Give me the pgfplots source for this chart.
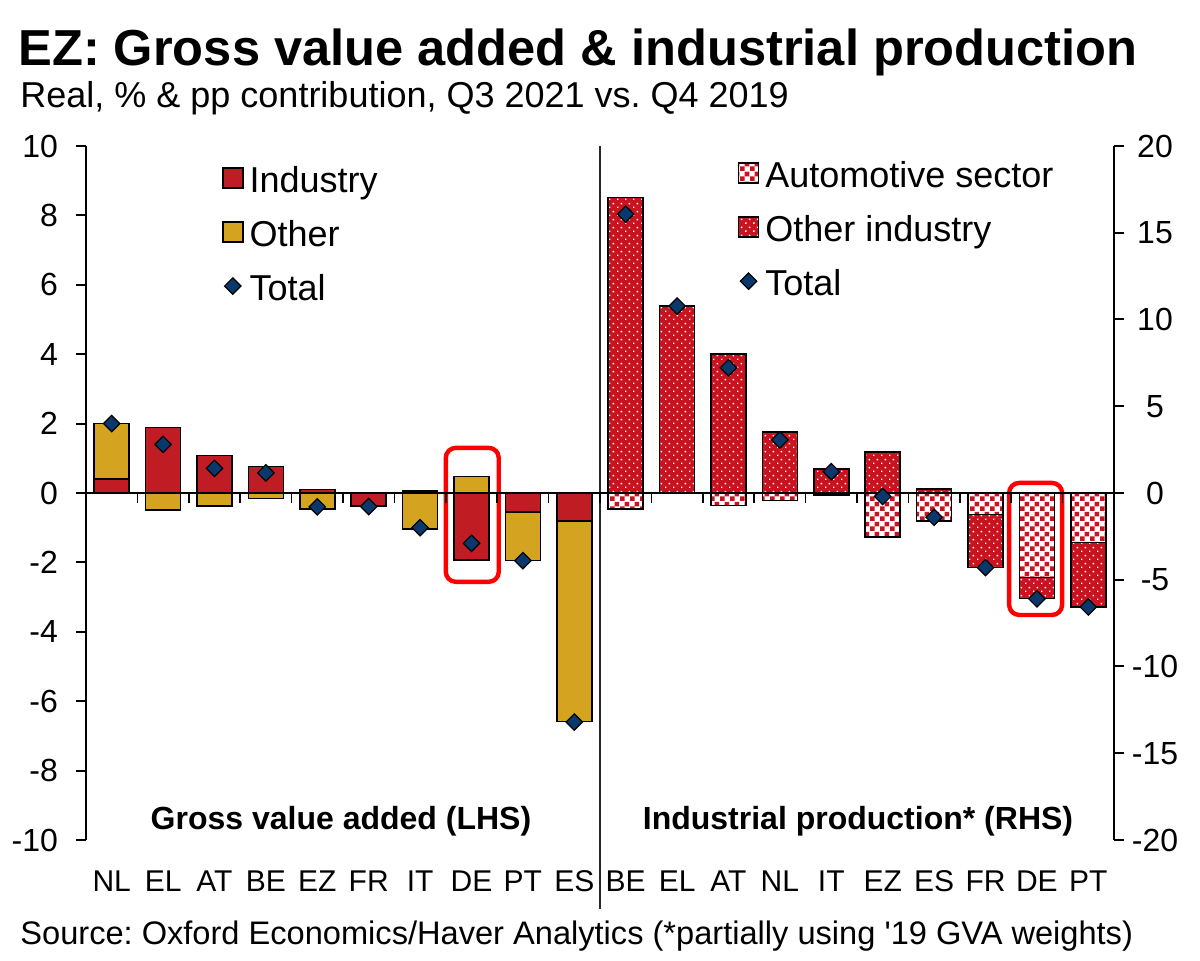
\documentclass[border=0pt]{standalone}
\usepackage{fontspec}
\setmainfont{Liberation Sans}[Ligatures=TeXOff]
\usepackage{pgfplots}
\usepackage{pgfplotstable}
\pgfplotsset{compat=1.18}
\usetikzlibrary{patterns.meta}

\definecolor{indred}{RGB}{192,28,36}
\definecolor{othgold}{RGB}{212,163,32}
\definecolor{totnavy}{RGB}{10,56,108}
\definecolor{ipred}{RGB}{200,20,32}

% checkerboard for the automotive sector, fine white dots for other industry
\tikzdeclarepattern{
  name=autocheck, type=uncolored,
  bounding box={(0pt,0pt) and (5pt,5pt)},
  tile size={(5pt,5pt)},
  code={\fill (0pt,0pt) rectangle (2.5pt,2.5pt); \fill (2.5pt,2.5pt) rectangle (5pt,5pt);}
}
\tikzdeclarepattern{
  name=smalldots, type=uncolored,
  bounding box={(0pt,0pt) and (4pt,4pt)},
  tile size={(4pt,4pt)},
  code={\fill (0.6pt,0.6pt) rectangle (1.4pt,1.4pt); \fill (2.6pt,2.6pt) rectangle (3.4pt,3.4pt);}
}

\tikzset{
  industry/.style={fill=indred, draw=black, line width=0.8pt},
  other/.style={fill=othgold, draw=black, line width=0.8pt},
  autosec/.style={preaction={fill=white}, pattern=autocheck, pattern color=ipred, draw=black, line width=0.8pt},
  othind/.style={preaction={fill=ipred}, pattern=smalldots, pattern color=white, draw=black, line width=0.8pt},
  totmark/.style={mark=square*, mark size=2.9pt, mark options={rotate=45, fill=totnavy, draw=black, line width=0.6pt}},
}

% Gross value added, % and pp contributions.
% ind: industry segment (next to zero); othend: outer end of the "other" segment,
% stacked on industry when both share a sign; tot: total.
\pgfplotstableread{
x ind othend tot
0  0.40  2.00  2.00
1  1.89 -0.49  1.40
2  1.08 -0.38  0.71
3  0.76 -0.16  0.58
4  0.10 -0.47 -0.40
5 -0.38  0.00 -0.39
6  0.05 -1.04 -1.00
7 -1.93  0.48 -1.45
8 -0.54 -1.95 -1.95
9 -0.80 -6.59 -6.60
}\gvatable

% Industrial production, % and pp contributions.
% auto: automotive sector (next to zero); othend: outer end of other industry; tot: total.
\pgfplotstableread{
x auto othend tot
10 -0.93 17.03 16.07
11  0.00 10.77 10.77
12 -0.73  8.00  7.22
13 -0.44  3.50  3.06
14 -0.12  1.37  1.23
15 -2.52  2.35 -0.20
16 -1.60  0.23 -1.40
17 -1.25 -4.30 -4.30
18 -4.87 -6.09 -6.10
19 -2.85 -6.57 -6.57
}\iptable

\begin{document}
\frenchspacing
\begin{tikzpicture}
\useasboundingbox (0,0) rectangle (600pt,480.5pt);

\pgfplotsset{
  ezaxis/.style={
    at={(43pt,60.5pt)}, anchor=south west,
    scale only axis, width=514pt, height=347pt,
    xmin=-0.5, xmax=19.5,
    clip=false,
    tick align=outside, major tick length=5pt,
    tick label style={font=\fontsize{16}{19}\selectfont},
    /pgf/number format/assume math mode=true,
    every outer y axis line/.append style={line width=1pt},
    ytick style={line width=1pt, black},
    legend cell align=left,
    legend style={draw=none, fill=none, inner sep=0pt, outer sep=0pt,
      font=\fontsize{18}{21}\selectfont, row sep=10pt, column sep=3pt,
      nodes={inner sep=0pt, text height=13pt, text depth=4pt}},
  },
}

% left: gross value added
\begin{axis}[ezaxis,
  ymin=-10, ymax=10,
  axis y line*=left,
  axis x line*=bottom,
  x axis line style={draw=none},
  xtick={0,...,19},
  xticklabels={NL,EL,AT,BE,EZ,FR,IT,DE,PT,ES,BE,EL,AT,NL,IT,EZ,ES,FR,DE,PT},
  xtick style={draw=none},
  xticklabel style={font=\fontsize{15}{18}\selectfont, anchor=base, yshift=-21pt},
  ytick={-10,-8,...,10},
  yticklabel style={xshift=-5.5pt},
  legend style={at={(0.1323,0.970)}, anchor=north west},
]
\addlegendimage{legend image code/.code={\draw[industry] (0pt,-2.1pt) rectangle (10pt,7.9pt);}}
\addlegendentry{Industry}
\addlegendimage{legend image code/.code={\draw[other] (0pt,-2.1pt) rectangle (10pt,7.9pt);}}
\addlegendentry{Other}
\addlegendimage{legend image code/.code={\draw[totmark] plot coordinates {(5pt,2.9pt)};}}
\addlegendentry{Total}

\addplot[ybar, bar width=17.5pt, bar shift=0pt, other, forget plot] table[x=x, y=othend] {\gvatable};
\addplot[ybar, bar width=17.5pt, bar shift=0pt, industry, forget plot] table[x=x, y=ind] {\gvatable};
\addplot[only marks, totmark, forget plot] table[x=x, y=tot] {\gvatable};

% divider between the two panels
\draw[line width=0.6pt, black!85] (axis cs:9.5,10) -- (axis cs:9.5,-12.0);
% highlight on Germany
\draw[red, line width=2.2pt, rounded corners=5pt] (axis cs:6.5,1.30) rectangle (axis cs:7.53,-2.56);
\end{axis}

% right: industrial production
\begin{axis}[ezaxis,
  ymin=-20, ymax=20,
  axis on top,
  axis y line*=right,
  axis x line*=middle,
  every inner x axis line/.append style={-, line width=1pt},
  xtick={0.5,1.5,...,18.5},
  xticklabels={},
  xtick style={line width=0.8pt, black},
  ytick={-20,-15,...,20},
  yticklabel style={anchor=center, xshift=15.5pt},
  legend style={at={(0.634,0.977)}, anchor=north west},
]
\addlegendimage{legend image code/.code={\draw[autosec] (0pt,-2.1pt) rectangle (10pt,7.9pt);}}
\addlegendentry{Automotive sector}
\addlegendimage{legend image code/.code={\draw[othind] (0pt,-2.1pt) rectangle (10pt,7.9pt);}}
\addlegendentry{Other industry}
\addlegendimage{legend image code/.code={\draw[totmark] plot coordinates {(5pt,2.9pt)};}}
\addlegendentry{Total}

\addplot[ybar, bar width=17.5pt, bar shift=0pt, othind, forget plot] table[x=x, y=othend] {\iptable};
\addplot[ybar, bar width=17.5pt, bar shift=0pt, autosec, forget plot] table[x=x, y=auto] {\iptable};
\addplot[only marks, totmark, forget plot] table[x=x, y=tot] {\iptable};

% highlight on Germany
\draw[red, line width=2.2pt, rounded corners=5pt] (axis cs:17.46,0.58) rectangle (axis cs:18.49,-7.03);
\end{axis}

% titles, panel labels and source
\node[anchor=base west, font=\fontsize{25.3}{30}\selectfont\bfseries, inner sep=0pt] at (9pt,447.5pt)
  {EZ: Gross value added \& industrial production};
\node[anchor=base west, font=\fontsize{18}{22}\selectfont, inner sep=0pt] at (10pt,426.5pt)
  {Real, \% \& pp contribution, Q3 2021 vs. Q4 2019};
\node[anchor=base, font=\fontsize{16}{19}\selectfont\bfseries, inner sep=0pt] at (170.5pt,65.5pt)
  {Gross value added (LHS)};
\node[anchor=base, font=\fontsize{16}{19}\selectfont\bfseries, inner sep=0pt] at (429pt,65.5pt)
  {Industrial production* (RHS)};
\node[anchor=base west, font=\fontsize{16.3}{19}\selectfont, inner sep=0pt] at (10pt,8pt)
  {Source: Oxford Economics/Haver Analytics (*partially using '19 GVA weights)};
\end{tikzpicture}
\end{document}
